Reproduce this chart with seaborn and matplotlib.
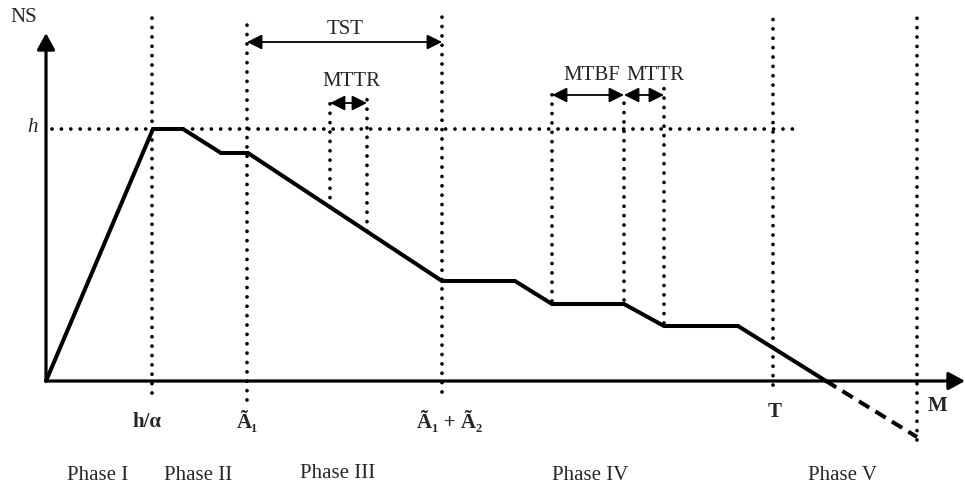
import matplotlib
matplotlib.use('Agg')

import matplotlib.pyplot as plt
import seaborn as sns
import pandas as pd

# 数据（以原点为 0，单位约为像素）
curve_x = [0, 107, 137, 175, 202, 396, 469, 506, 578, 618, 692, 780]
curve_ns = [0, 252, 252, 228, 228, 100, 100, 77, 77, 55, 55, 0]
tail_x = [780, 871]
tail_ns = [0, -56]

h_level = 252
h_line_x = [6, 747]

vline_x = [106, 201, 284, 321, 396, 506, 578, 618, 727, 871]
vline_top = [364, 365, 286, 286, 365, 293, 287, 293, 364, 364]
vline_bottom = [-12, -19, 174, 150, -11, 80, 81, 58, -4, -59]

span_names = ['TST', 'MTTR', 'MTBF', 'MTTR']
span_start = [201, 284, 506, 578]
span_end = [396, 321, 578, 618]
span_y = [339, 278, 286, 286]
span_label_x = [299, 305, 546, 609]
span_label_y = [351, 299, 306, 306]

tick_labels = ['h/α', 'Ã₁', 'Ã₁ + Ã₂', 'T', 'M']
tick_x = [101, 201, 404, 729, 891]
tick_y = [-41, -41, -41, -31, -25]

phase_labels = ['Phase I', 'Phase II', 'Phase III', 'Phase IV', 'Phase V']
phase_x = [52, 152, 292, 544, 796]
phase_y = [-95, -95, -92, -95, -95]

sns.set_theme(style='white')
plt.rcParams['font.family'] = ['Liberation Serif', 'DejaVu Serif']

fig = plt.figure(figsize=(9.65, 4.84), dpi=100)
ax = fig.add_axes([0, 0, 1, 1])
ax.set_xlim(-46, 919)
ax.set_ylim(-103, 381)
ax.axis('off')

dot_lw = 2.7
dot_style = (0, (0.01, 6.72 / dot_lw))

# 点线
ax.hlines(h_level, h_line_x[0], h_line_x[1], colors='black', lw=dot_lw,
          linestyles=[dot_style], capstyle='round')
for x, top, bot in zip(vline_x, vline_top, vline_bottom):
    ax.plot([x, x], [bot, top], color='black', lw=dot_lw, linestyle=dot_style,
            dash_capstyle='round')

# 坐标轴箭头
arrow_kw = dict(arrowstyle='-|>,head_length=0.55,head_width=0.3',
                color='black', lw=2.3, shrinkA=0, shrinkB=0, mutation_scale=18)
ax.annotate('', xy=(919, 0), xytext=(0, 0), arrowprops=arrow_kw)
ax.annotate('', xy=(0, 348), xytext=(0, 0), arrowprops=arrow_kw)

# 曲线
df = pd.DataFrame({'x': curve_x, 'ns': curve_ns})
sns.lineplot(data=df, x='x', y='ns', sort=False, color='black', lw=2.9,
             ax=ax, solid_joinstyle='miter')
ax.plot(tail_x, tail_ns, color='black', lw=2.9, linestyle=(0, (3.0, 1.8)))

# 区间箭头
span_kw = dict(arrowstyle='<|-|>,head_length=0.6,head_width=0.3',
               color='black', lw=1.3, shrinkA=0, shrinkB=0, mutation_scale=15)
for name, x0, x1, y, lx, ly in zip(span_names, span_start, span_end, span_y,
                                   span_label_x, span_label_y):
    ax.annotate('', xy=(x1, y), xytext=(x0, y), arrowprops=span_kw)
    ax.text(lx, ly, name, ha='center', va='center', fontsize=15)

ax.text(-22, 363, 'NS', ha='center', va='center', fontsize=15)
ax.text(-13, 253, 'h', ha='center', va='center', fontsize=15, style='italic')

for lab, x, y in zip(tick_labels, tick_x, tick_y):
    ax.text(x, y, lab, ha='center', va='center', fontsize=15, fontweight='bold')

for lab, x, y in zip(phase_labels, phase_x, phase_y):
    ax.text(x, y, lab, ha='center', va='center', fontsize=15)

fig.savefig('out.png', dpi=100)
